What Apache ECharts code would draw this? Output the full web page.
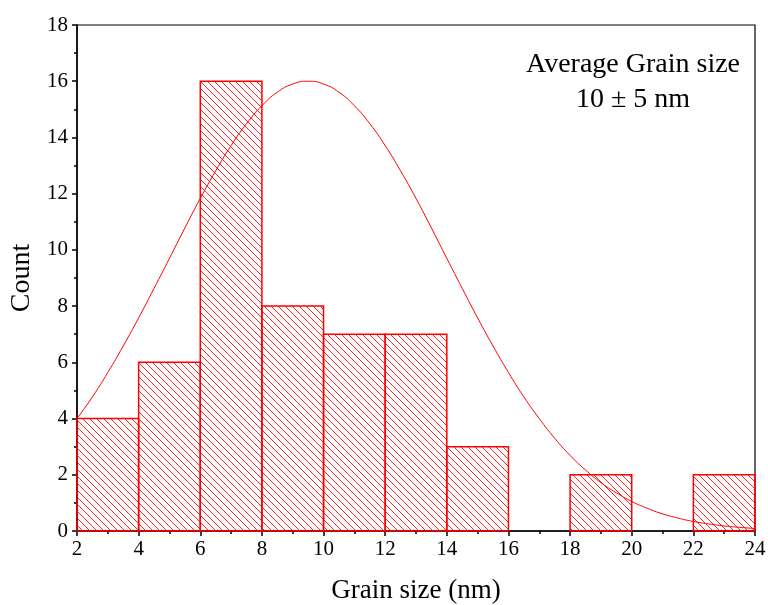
<!DOCTYPE html>
<html>
<head>
<meta charset="utf-8">
<script src="https://cdn.jsdelivr.net/npm/echarts@6/dist/echarts.min.js"></script>
<style>html,body{margin:0;padding:0;background:#fff;}#c{width:768px;height:605px;}</style>
</head>
<body>
<div id="c"></div>
<script>
// Histogram bins (nm) and counts
const binStarts = [2, 4, 6, 8, 10, 12, 14, 16, 18, 20, 22];
const binWidth = 2;
const counts = [4, 6, 16, 8, 7, 7, 3, 0, 2, 0, 2];
// Fitted distribution curve
const curveX = [2, 2.5, 3, 3.5, 4, 4.5, 5, 5.5, 6, 6.5, 7, 7.5, 8, 8.5, 9, 9.5, 10, 10.5, 11, 11.5, 12, 12.5, 13, 13.5, 14, 14.5, 15, 15.5, 16, 16.5, 17, 17.5, 18, 18.5, 19, 19.5, 20, 20.5, 21, 21.5, 22, 22.5, 23, 23.5, 24];
const curveY = [4.0, 4.77, 5.64, 6.58, 7.58, 8.63, 9.7, 10.78, 11.83, 12.81, 13.71, 14.49, 15.13, 15.61, 15.9, 16.0, 15.9, 15.61, 15.13, 14.49, 13.71, 12.81, 11.83, 10.78, 9.7, 8.63, 7.58, 6.58, 5.64, 4.77, 4.0, 3.3, 2.69, 2.17, 1.72, 1.36, 1.05, 0.81, 0.61, 0.46, 0.34, 0.25, 0.18, 0.13, 0.09];
const xTicks = [2, 24, 2];
const yTicks = [0, 18, 2];
const annotation = ['Average Grain size', '10 \u00b1 5 nm'];

// hatch pattern
const pc = document.createElement('canvas');
const S = 7;
pc.width = S; pc.height = S;
const g = pc.getContext('2d');
g.strokeStyle = 'rgba(255,0,0,0.85)';
g.lineWidth = 1;
g.beginPath();
g.moveTo(-1, -1); g.lineTo(S + 1, S + 1);
g.moveTo(-1, S - 1); g.lineTo(1, S + 1);
g.moveTo(S - 1, -1); g.lineTo(S + 1, 1);
g.stroke();

const chart = echarts.init(document.getElementById('c'), null, {renderer: 'canvas'});
const font = 'Liberation Serif';
const barData = binStarts.map((s, i) => [s, s + binWidth, counts[i]]).filter(d => d[2] > 0);
const curveData = curveX.map((x, i) => [x, curveY[i]]);

chart.setOption({
  animation: false,
  backgroundColor: '#fff',
  grid: {left: 77, right: 13, top: 25, bottom: 74, containLabel: false, outerBoundsMode: 'none',
         show: true, borderColor: '#000', borderWidth: 1.2, backgroundColor: 'transparent'},
  xAxis: {
    type: 'value', min: xTicks[0], max: xTicks[1], interval: xTicks[2],
    name: 'Grain size (nm)', nameLocation: 'middle', nameGap: 46,
    nameTextStyle: {fontFamily: font, fontSize: 27, color: '#000'},
    axisLine: {show: true, lineStyle: {color: '#000', width: 1.5}},
    axisTick: {show: true, length: 5, lineStyle: {color: '#000', width: 1.5}},
    minorTick: {show: true, splitNumber: 2, length: 3, lineStyle: {color: '#000', width: 1.5}},
    axisLabel: {fontFamily: font, fontSize: 21, color: '#000', margin: 8},
    splitLine: {show: false}
  },
  yAxis: {
    type: 'value', min: yTicks[0], max: yTicks[1], interval: yTicks[2],
    name: 'Count', nameLocation: 'middle', nameGap: 38,
    nameTextStyle: {fontFamily: font, fontSize: 28, color: '#000'},
    axisLine: {show: true, lineStyle: {color: '#000', width: 1.5}},
    axisTick: {show: true, length: 5, lineStyle: {color: '#000', width: 1.5}},
    minorTick: {show: true, splitNumber: 2, length: 3, lineStyle: {color: '#000', width: 1.5}},
    axisLabel: {fontFamily: font, fontSize: 21, color: '#000', margin: 9},
    splitLine: {show: false}
  },
  series: [
    {
      type: 'custom',
      data: barData,
      encode: {x: [0, 1], y: 2},
      renderItem: function (params, api) {
        const p0 = api.coord([api.value(0), api.value(2)]);
        const p1 = api.coord([api.value(1), 0]);
        return {
          type: 'rect',
          shape: {x: p0[0], y: p0[1], width: p1[0] - p0[0], height: p1[1] - p0[1]},
          style: {fill: {image: pc, repeat: 'repeat'}, stroke: '#ff0000', lineWidth: 1.5}
        };
      },
      z: 2
    },
    {
      type: 'line',
      data: curveData,
      smooth: true,
      showSymbol: false,
      lineStyle: {color: '#ff0000', width: 1},
      z: 3
    }
  ],
  graphic: [
    {type: 'text', x: 633, y: 65, style: {text: annotation[0], font: '28px "Liberation Serif"', fill: '#000', align: 'center', verticalAlign: 'middle'}, z: 10},
    {type: 'text', x: 633, y: 100, style: {text: annotation[1], font: '28px "Liberation Serif"', fill: '#000', align: 'center', verticalAlign: 'middle'}, z: 10}
  ]
});
</script>
</body>
</html>
